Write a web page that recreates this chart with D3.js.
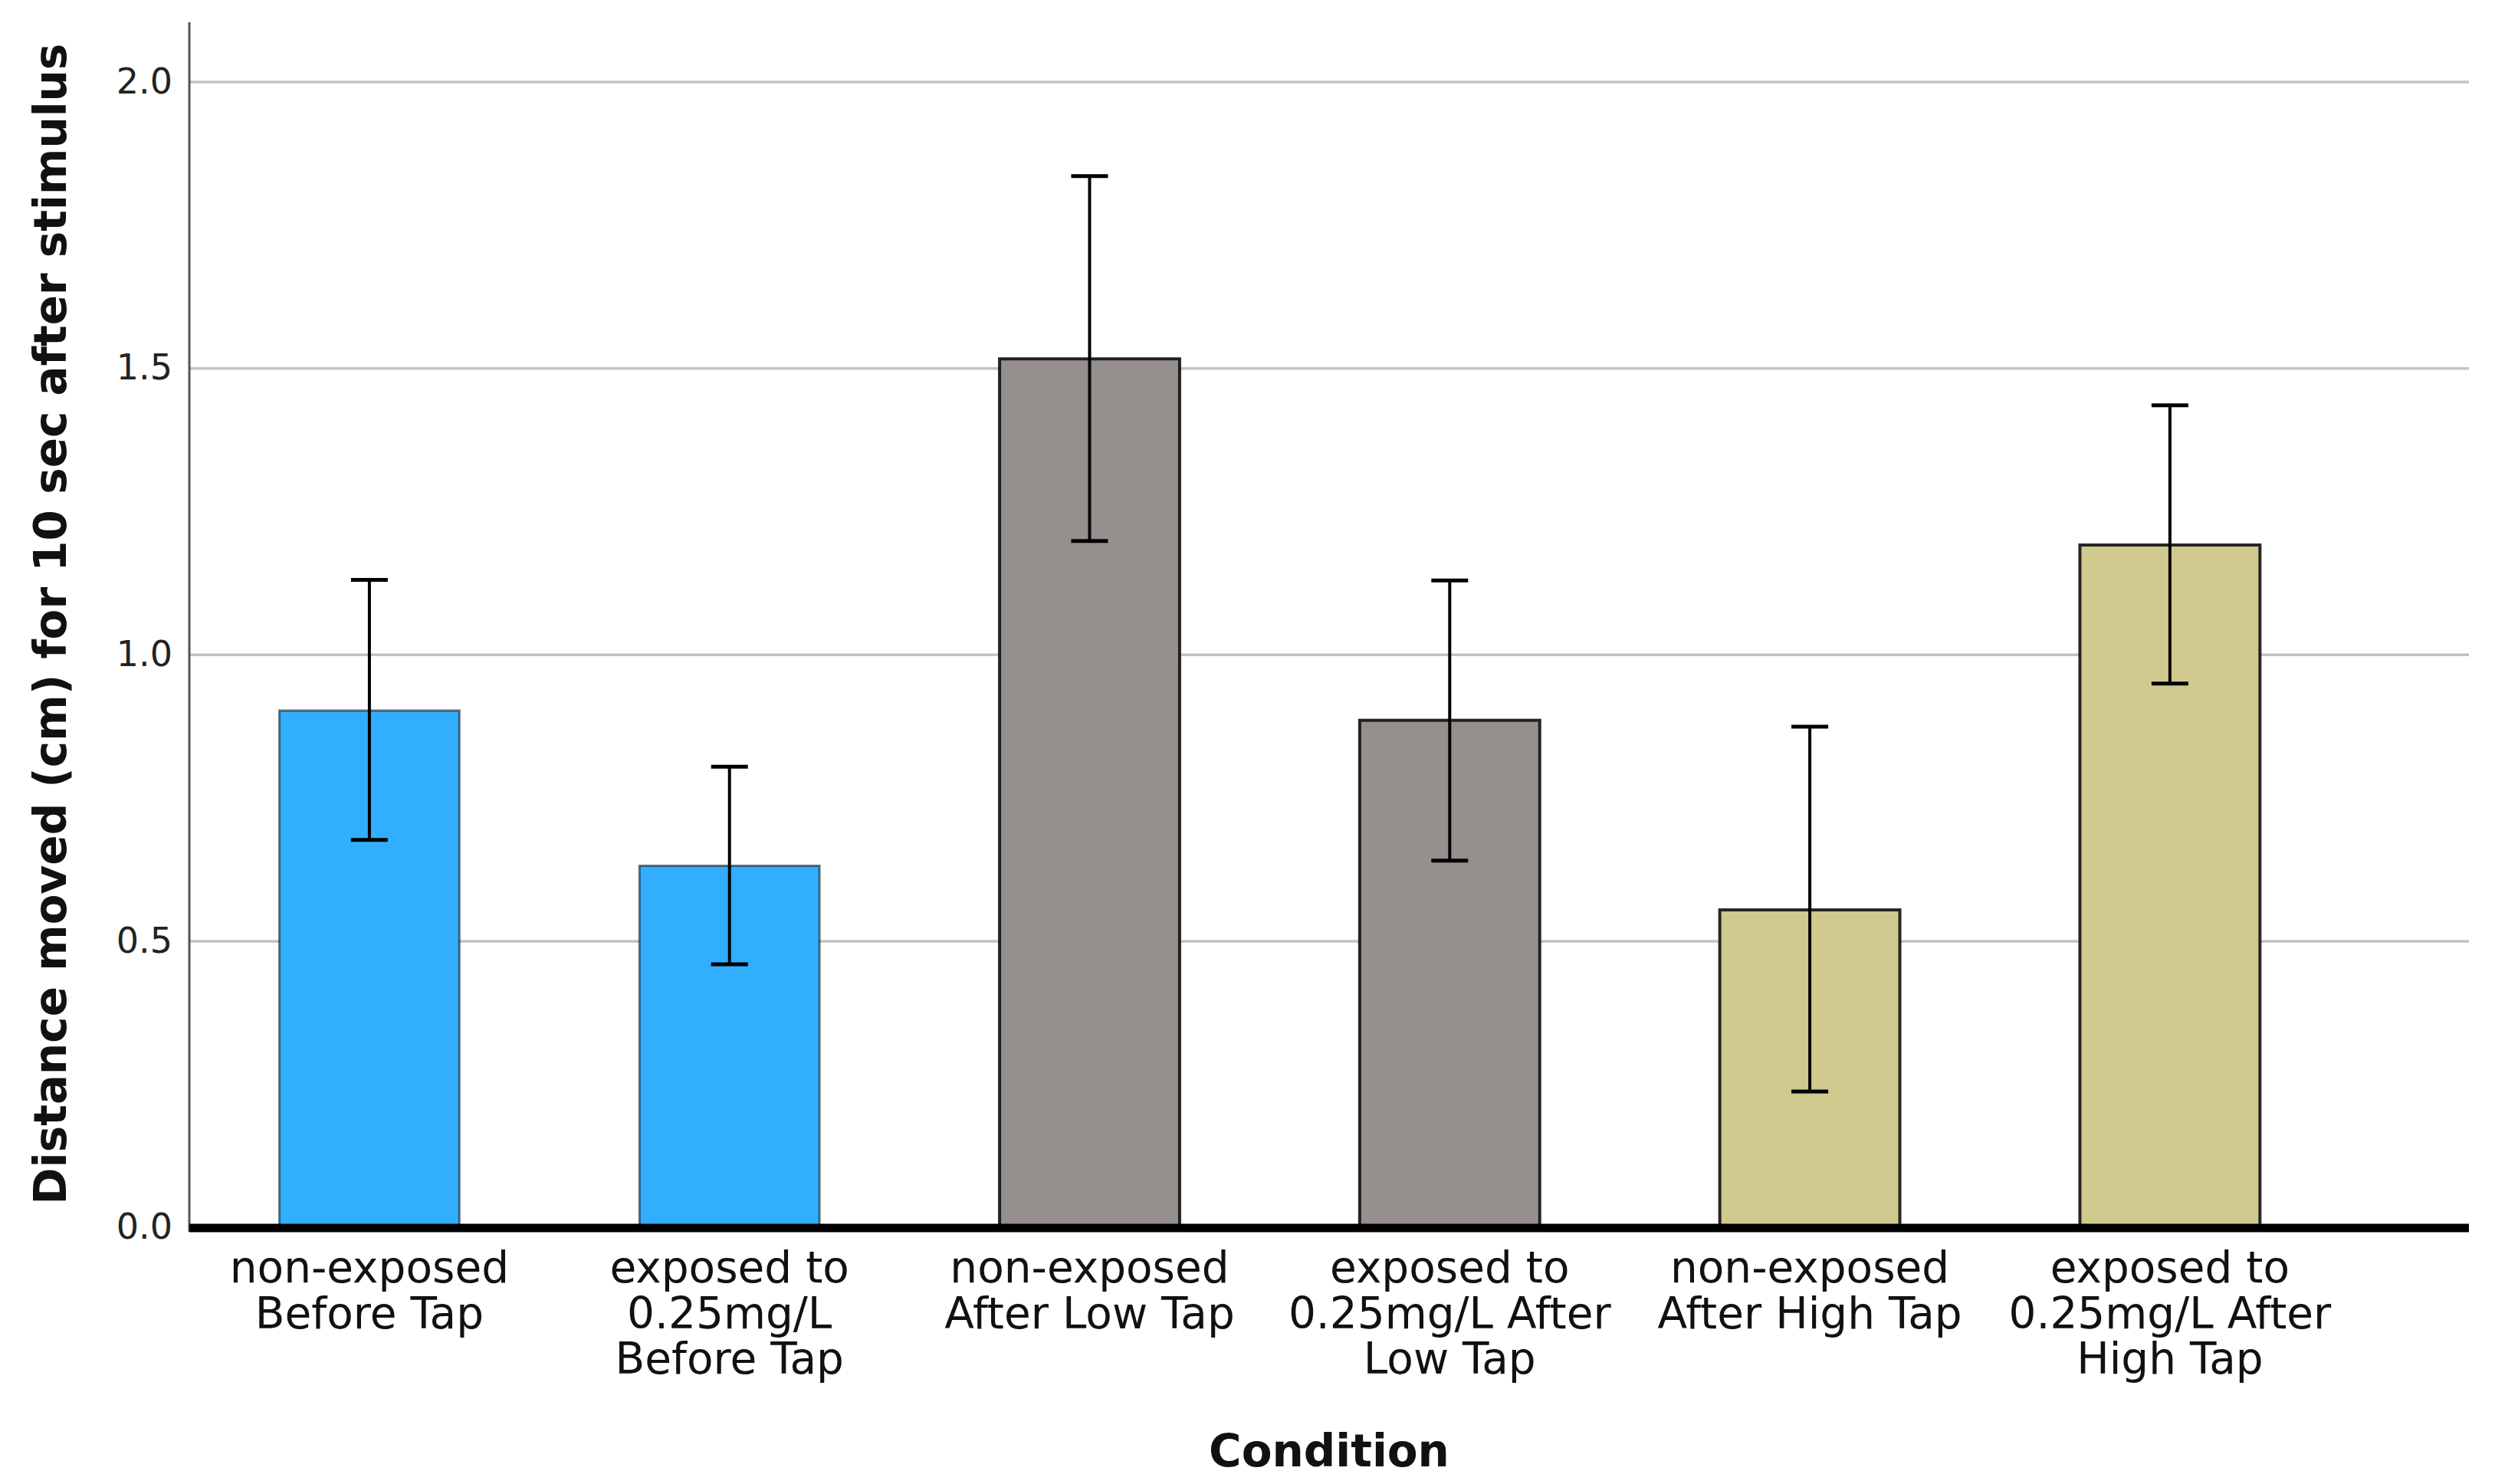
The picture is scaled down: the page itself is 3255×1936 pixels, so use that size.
<!DOCTYPE html>
<html>
<head>
<meta charset="utf-8">
<script src="https://cdn.jsdelivr.net/npm/d3@7"></script>
<style>
  html, body { margin: 0; padding: 0; background: #fff; }
  svg { display: block; }
</style>
</head>
<body>
<div id="chart"></div>
<script>
// data
const categories = ["neBefore", "exBefore", "neLow", "exLow", "neHigh", "exHigh"];
const labelLines = [
  ["non-exposed", "Before Tap"],
  ["exposed to", "0.25mg/L", "Before Tap"],
  ["non-exposed", "After Low Tap"],
  ["exposed to", "0.25mg/L After", "Low Tap"],
  ["non-exposed", "After High Tap"],
  ["exposed to", "0.25mg/L After", "High Tap"]
];
const groups = ["Before", "Before", "Low", "Low", "High", "High"];
const means = [0.902, 0.631, 1.516, 0.885, 0.554, 1.191];
const upper = [1.130, 0.804, 1.835, 1.129, 0.874, 1.435];
const lower = [0.676, 0.459, 1.198, 0.640, 0.237, 0.949];
const yTicks = [0, 0.5, 1.0, 1.5, 2.0];

const w = 3255, h = 1936;
const left = 247, right = 3221;   // plot area
const yBase = 1601, yTop = 106.5;
const font = "'DejaVu Sans', Verdana, sans-serif";

const svg = d3.select("#chart")
  .append("svg")
  .attr("width", w)
  .attr("height", h)
  .style("font-family", font);

const xScale = d3.scaleBand()
  .domain(categories)
  .range([left, left + 6 * 469.8])
  .paddingInner(0.5)
  .paddingOuter(0.25);

const yScale = d3.scaleLinear()
  .domain([0, 2])
  .range([yBase, yTop]);

const colour = d3.scaleOrdinal()
  .domain(["Before", "Low", "High"])
  .range(["#31aefe", "#958f8e", "#d1ca8f"]);

// gridlines
const grid = svg.append("g")
  .attr("transform", `translate(${left},0)`)
  .call(d3.axisLeft(yScale).tickValues(yTicks).tickSize(-(right - left)).tickFormat(""));
grid.select(".domain").remove();
grid.selectAll("line").attr("stroke", "#c2c2c2").attr("stroke-width", 3.5);

// y axis labels
const yAxis = svg.append("g")
  .attr("transform", `translate(${left},0)`)
  .call(d3.axisLeft(yScale).tickValues(yTicks).tickSize(0).tickPadding(22).tickFormat(d3.format(".1f")));
yAxis.select(".domain").remove();
yAxis.attr("font-family", font);
yAxis.selectAll("text")
  .attr("font-size", 46)
  .attr("fill", "#222");

// left axis line
svg.append("line")
  .attr("x1", left).attr("x2", left)
  .attr("y1", 29).attr("y2", yBase + 6)
  .attr("stroke", "#555")
  .attr("stroke-width", 3);

// bars
svg.selectAll("rect.bar")
  .data(means)
  .enter()
  .append("rect")
  .attr("class", "bar")
  .attr("x", (d, i) => xScale(categories[i]))
  .attr("y", d => yScale(d))
  .attr("width", xScale.bandwidth())
  .attr("height", d => yScale(0) - yScale(d))
  .attr("fill", (d, i) => colour(groups[i]))
  .attr("stroke", "#111")
  .attr("stroke-opacity", (d, i) => groups[i] === "Before" ? 0.55 : 0.9)
  .attr("stroke-width", (d, i) => groups[i] === "Before" ? 3 : 4);

// error bars
const cap = 48;
const err = svg.append("g").attr("stroke", "#000");
err.selectAll("line.whisker")
  .data(means)
  .enter()
  .append("line")
  .attr("class", "whisker")
  .attr("x1", (d, i) => xScale(categories[i]) + xScale.bandwidth() / 2)
  .attr("x2", (d, i) => xScale(categories[i]) + xScale.bandwidth() / 2)
  .attr("y1", (d, i) => yScale(upper[i]))
  .attr("y2", (d, i) => yScale(lower[i]))
  .attr("stroke-width", 4);
[upper, lower].forEach(arr => {
  err.selectAll(null)
    .data(arr)
    .enter()
    .append("line")
    .attr("x1", (d, i) => xScale(categories[i]) + xScale.bandwidth() / 2 - cap / 2)
    .attr("x2", (d, i) => xScale(categories[i]) + xScale.bandwidth() / 2 + cap / 2)
    .attr("y1", d => yScale(d))
    .attr("y2", d => yScale(d))
    .attr("stroke-width", 5);
});

// thick baseline + x axis labels
const xAxis = svg.append("g")
  .attr("transform", `translate(0,${yBase})`)
  .call(d3.axisBottom(xScale).tickSize(0).tickFormat(""));
xAxis.select(".domain").remove();
xAxis.attr("font-family", font);
svg.append("line")
  .attr("x1", left).attr("x2", right)
  .attr("y1", yScale(0) + 1).attr("y2", yScale(0) + 1)
  .attr("stroke", "#000")
  .attr("stroke-width", 11);

xAxis.selectAll(".tick").each(function (d, i) {
  const t = d3.select(this).append("text")
    .attr("y", 72)
    .attr("text-anchor", "middle")
    .attr("font-family", font)
    .attr("font-size", 56.5)
    .attr("fill", "#111");
  labelLines[i].forEach((line, k) => {
    t.append("tspan")
      .attr("x", 0)
      .attr("dy", k === 0 ? 0 : 59.5)
      .text(line);
  });
});

// axis titles
svg.append("text")
  .attr("transform", "translate(86,814) rotate(-90)")
  .attr("text-anchor", "middle")
  .attr("font-size", 58)
  .attr("font-weight", "bold")
  .attr("fill", "#111")
  .text("Distance moved (cm) for 10 sec after stimulus");

svg.append("text")
  .attr("x", (left + right) / 2)
  .attr("y", 1913)
  .attr("text-anchor", "middle")
  .attr("font-size", 58)
  .attr("font-weight", "bold")
  .attr("fill", "#111")
  .text("Condition");
</script>
</body>
</html>
